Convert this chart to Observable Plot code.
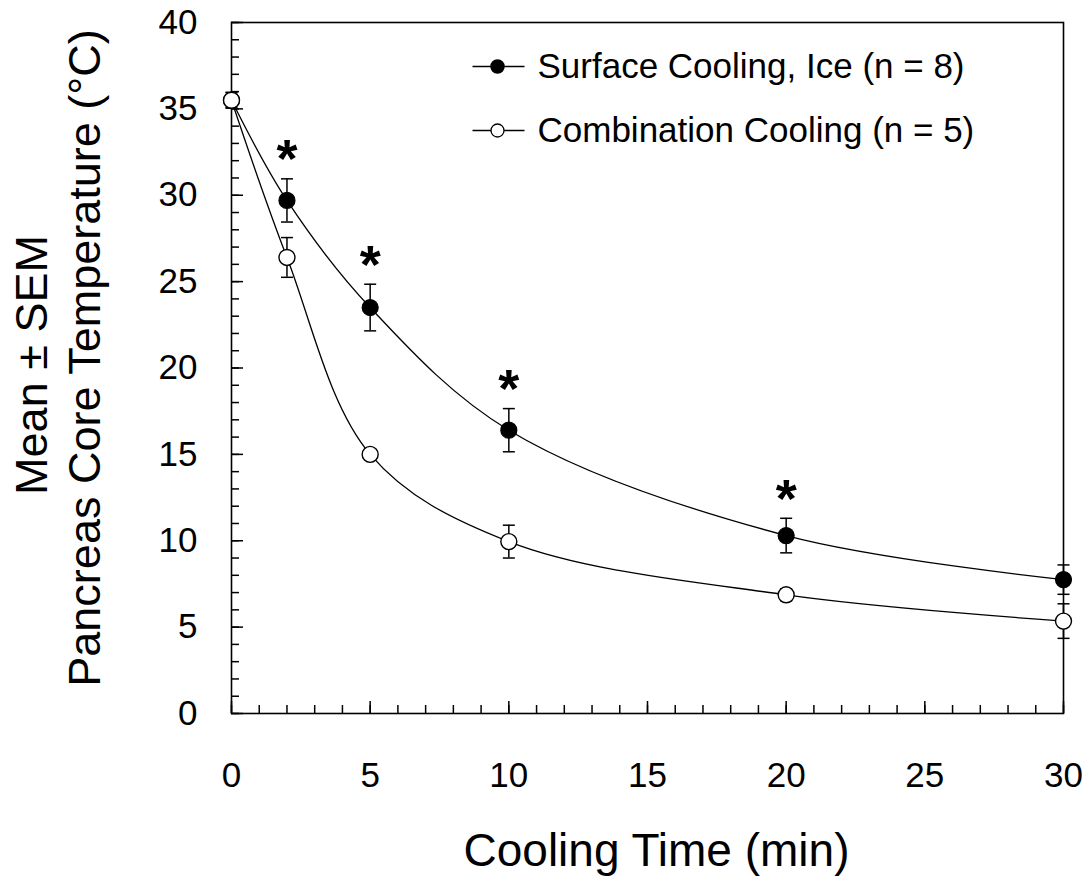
<!DOCTYPE html>
<html>
<head>
<meta charset="utf-8">
<script src="https://cdn.jsdelivr.net/npm/d3@7"></script>
<script src="https://cdn.jsdelivr.net/npm/@observablehq/plot@0.6"></script>
<style>
  html, body { margin: 0; padding: 0; background: #fff; }
</style>
</head>
<body>
<div id="chart"></div>
<script>
// ---- data ----
const times = [0, 2, 5, 10, 20, 30];
const surfaceMean = [35.5, 29.7, 23.5, 16.4, 10.3, 7.75];
const surfaceSem  = [0.45, 1.25, 1.35, 1.25, 1.0, 0.85];
const comboMean   = [35.5, 26.4, 15.0, 9.95, 6.87, 5.35];
const comboSem    = [0.45, 1.15, 0.3, 0.95, 0.35, 1.0];
const significantTimes = [2, 5, 10, 20];
const xTicks = [0, 5, 10, 15, 20, 25, 30];
const yTicks = [0, 5, 10, 15, 20, 25, 30, 35, 40];
const seriesNames = ["Surface Cooling, Ice (n = 8)", "Combination Cooling (n = 5)"];
const xLabel = "Cooling Time (min)";
const yLabel1 = "Mean \u00b1 SEM";
const yLabel2 = "Pancreas Core Temperature (\u00b0C)";

// ---- tables ----
const surface = times.map((t, i) => ({t, mean: surfaceMean[i], sem: surfaceSem[i]}));
const combo = times.map((t, i) => ({t, mean: comboMean[i], sem: comboSem[i]}));
const stars = surface.filter(d => significantTimes.includes(d.t));
const xMinor = d3.range(0, 31);
const yMinor = d3.range(0, 41);

// ---- layout ----
const W = 1090, H = 878;
const mL = 231, mR = 27, mT = 22, mB = 165;
const pw = W - mL - mR, ph = H - mT - mB;
const font = "'Liberation Sans', Arial, Helvetica, sans-serif";

const capSymbol = {draw(ctx) { ctx.moveTo(-6, 0); ctx.lineTo(6, 0); }};
const legendLine = {draw(ctx) { ctx.moveTo(-26, 0); ctx.lineTo(26, 0); }};

const errMarks = (data) => [
  Plot.ruleX(data, {x: "t", y1: d => d.mean - d.sem, y2: d => d.mean + d.sem, stroke: "black", strokeWidth: 1.5}),
  Plot.dot(data, {x: "t", y: d => d.mean + d.sem, symbol: capSymbol, fill: "none", stroke: "black", strokeWidth: 1.5}),
  Plot.dot(data, {x: "t", y: d => d.mean - d.sem, symbol: capSymbol, fill: "none", stroke: "black", strokeWidth: 1.5})
];

const chart = Plot.plot({
  width: W,
  height: H,
  marginLeft: mL,
  marginRight: mR,
  marginTop: mT,
  marginBottom: mB,
  style: {fontFamily: font, background: "#fff", color: "black"},
  x: {domain: [0, 30]},
  y: {domain: [0, 40]},
  marks: [
    // ticks (inward)
    Plot.tickX(xMinor, {x: d => d, insetTop: ph - 8, stroke: "black", strokeWidth: 1.5}),
    Plot.tickX(xTicks, {x: d => d, insetTop: ph - 12, stroke: "black", strokeWidth: 1.5}),
    Plot.tickY(yMinor, {y: d => d, insetRight: pw - 8, stroke: "black", strokeWidth: 1.5}),
    Plot.tickY(yTicks, {y: d => d, insetRight: pw - 12, stroke: "black", strokeWidth: 1.5}),
    Plot.axisX({ticks: xTicks, tickSize: 0, tickPadding: 49, fontSize: 35, label: null, fill: "black"}),
    Plot.axisY({ticks: yTicks, tickSize: 0, tickPadding: 34, fontSize: 35, label: null, fill: "black"}),
    Plot.frame({stroke: "black", strokeWidth: 1.6}),
    // error bars
    ...errMarks(surface),
    ...errMarks(combo),
    // curves
    Plot.line(surface, {x: "t", y: "mean", curve: "catmull-rom", stroke: "black", strokeWidth: 1.3}),
    Plot.line(combo, {x: "t", y: "mean", curve: "catmull-rom", stroke: "black", strokeWidth: 1.3}),
    // markers
    Plot.dot(surface, {x: "t", y: "mean", r: 8, fill: "black", stroke: "black", strokeWidth: 1.2}),
    Plot.dot(combo, {x: "t", y: "mean", r: 8, fill: "white", stroke: "black", strokeWidth: 1.4}),
    // significance asterisks
    Plot.text(stars, {x: "t", y: d => d.mean + d.sem, text: () => "*", fontSize: 54, fontWeight: "bold", lineAnchor: "top", dy: -40, fill: "black"}),
    // legend
    Plot.dot([0], {x: null, y: null, frameAnchor: "top-left", dx: 267, dy: 44, symbol: legendLine, fill: "none", stroke: "black", strokeWidth: 1.5}),
    Plot.dot([0], {x: null, y: null, frameAnchor: "top-left", dx: 266, dy: 44, r: 6.5, fill: "black", stroke: "black"}),
    Plot.text([seriesNames[0]], {frameAnchor: "top-left", dx: 306, dy: 44, textAnchor: "start", lineAnchor: "middle", fontSize: 35, fill: "black"}),
    Plot.dot([0], {x: null, y: null, frameAnchor: "top-left", dx: 267, dy: 108, symbol: legendLine, fill: "none", stroke: "black", strokeWidth: 1.5}),
    Plot.dot([0], {x: null, y: null, frameAnchor: "top-left", dx: 266, dy: 108, r: 6.5, fill: "white", stroke: "black", strokeWidth: 1.3}),
    Plot.text([seriesNames[1]], {frameAnchor: "top-left", dx: 306, dy: 108, textAnchor: "start", lineAnchor: "middle", fontSize: 35, fill: "black"}),
    // axis titles
    Plot.text([xLabel], {frameAnchor: "bottom", dx: 9, dy: 138, textAnchor: "middle", lineAnchor: "middle", fontSize: 46, fill: "black"}),
    Plot.text([yLabel1], {frameAnchor: "left", dx: -199, dy: -3, rotate: -90, textAnchor: "middle", lineAnchor: "middle", fontSize: 45, fill: "black"}),
    Plot.text([yLabel2], {frameAnchor: "left", dx: -146, dy: -10, rotate: -90, textAnchor: "middle", lineAnchor: "middle", fontSize: 45, fill: "black"})
  ]
});
document.getElementById("chart").appendChild(chart);
</script>
</body>
</html>
